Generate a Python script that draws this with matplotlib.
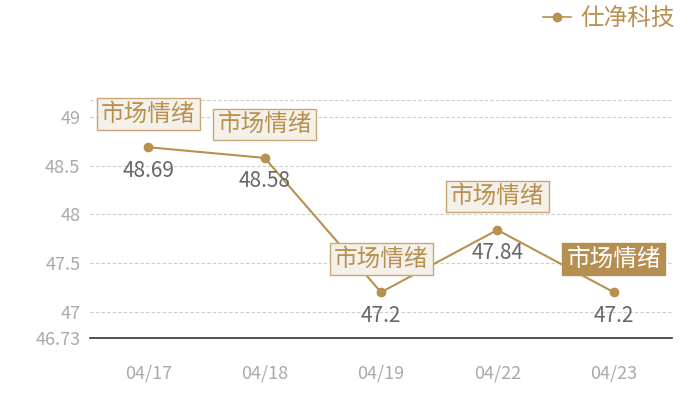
import matplotlib
matplotlib.use("Agg")
import matplotlib.pyplot as plt
from matplotlib.lines import Line2D

plt.rcParams['font.family'] = ['Noto Sans CJK SC', 'DejaVu Sans']

dates = ["04/17", "04/18", "04/19", "04/22", "04/23"]
values = [48.69, 48.58, 47.2, 47.84, 47.2]
series_name = "仕净科技"
note = "市场情绪"
yticks = [46.73, 47, 47.5, 48, 48.5, 49]
ytick_labels = ["46.73", "47", "47.5", "48", "48.5", "49"]
highlight = [False, False, False, False, True]

gold = "#b8904f"
fig = plt.figure(figsize=(7, 4), dpi=100)
ax = fig.add_axes([90/700, 62/400, 582/700, 238/400])
x = list(range(len(dates)))
ax.plot(x, values, color=gold, lw=1.5, marker='o', ms=6, zorder=3)
ax.set_xlim(-0.5, len(dates) - 0.5)
ax.set_ylim(46.73, 49.175)
ax.set_yticks(yticks)
ax.set_yticklabels(ytick_labels)
ax.set_xticks(x)
ax.set_xticklabels(dates)
ax.tick_params(axis='both', length=0, colors="#aaaaaa", labelsize=13)
ax.tick_params(axis='y', pad=7)
ax.tick_params(axis='x', pad=19)
for t in [47, 47.5, 48, 48.5, 49, 49.175]:
    ax.axhline(t, color="#cccccc", lw=0.8, ls=(0, (3, 2)), zorder=1)
for s in ['top', 'right', 'left']:
    ax.spines[s].set_visible(False)
ax.spines['bottom'].set_color("#333333")
ax.spines['bottom'].set_linewidth(1.2)

for xi, v, hl in zip(x, values, highlight):
    ax.annotate(f"{v:g}", (xi, v), xytext=(0, -9), textcoords='offset points',
                ha='center', va='top', fontsize=15, color="#666666", zorder=4)
    if hl:
        bbox = dict(boxstyle='square,pad=0.18', fc="#b58f52", ec="#b58f52", lw=1)
        tc = "white"
    else:
        bbox = dict(boxstyle='square,pad=0.18', fc="#f4f0ea", ec="#c9a777", lw=1)
        tc = gold
    ax.annotate(note, (xi, v), xytext=(0, 24), textcoords='offset points',
                ha='center', va='center', fontsize=17, color=tc, bbox=bbox, zorder=5)

handle = Line2D([], [], color=gold, marker='o', ms=6, lw=1.2)
fig.legend([handle], [series_name], loc='upper right', bbox_to_anchor=(0.995, 1.035),
           frameon=False, fontsize=17, labelcolor=gold, handlelength=1.2,
           handletextpad=0.4)
fig.savefig("out.png", dpi=100, facecolor="white")
